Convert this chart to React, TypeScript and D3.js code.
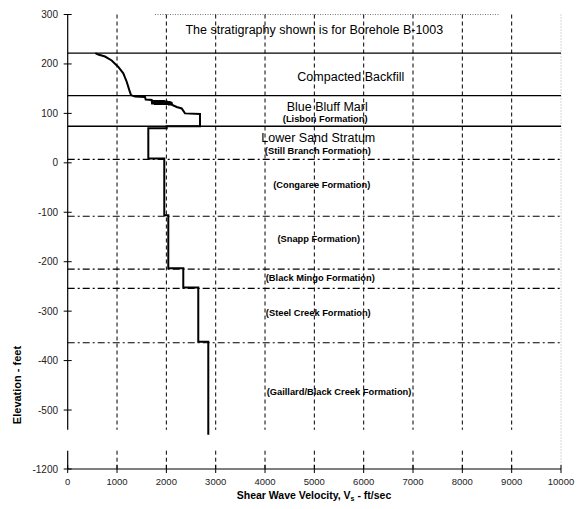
import { useEffect } from "react";
import * as d3 from "d3";

const W = 577;
const H = 509;

// shear wave velocity profile, [Vs ft/sec, elevation ft]
const PROFILE: [number, number][] = [
  [560, 222], [620, 219], [756, 215], [892, 207], [1026, 194], [1127, 181],
  [1196, 164], [1249, 147], [1283, 137], [1364, 134], [1567, 133], [1581, 128],
  [1703, 127],
  // noisy band around el. 120
  [1712, 118], [1722, 127], [1731, 118], [1741, 126], [1750, 118], [1760, 127],
  [1769, 117], [1779, 126], [1788, 118], [1798, 127], [1807, 117], [1817, 126],
  [1826, 118], [1836, 127], [1845, 117], [1855, 126], [1864, 118], [1874, 127],
  [1883, 117], [1893, 126], [1902, 118], [1912, 127], [1921, 117], [1931, 126],
  [1940, 118], [1950, 127], [1959, 117], [1969, 126], [1978, 118], [1988, 126],
  [1997, 117], [2007, 126], [2016, 117], [2026, 125], [2035, 117], [2045, 125],
  [2054, 116], [2064, 125], [2073, 116], [2083, 124], [2092, 116], [2102, 123],
  [2120, 117],
  [2210, 113], [2311, 110], [2378, 100], [2682, 99], [2682, 74], [2007, 74],
  [2007, 70], [1634, 70], [1634, 9], [1958, 9], [1958, -106], [2039, -106],
  [2039, -213], [2343, -213], [2343, -252], [2647, -252], [2647, -362],
  [2850, -362], [2850, -550],
];

const SOLID_BOUNDARIES = [222, 136, 74];
const DASHED_BOUNDARIES = [7, -108, -215, -254, -364];

const X_TICKS = [0, 1000, 2000, 3000, 4000, 5000, 6000, 7000, 8000, 9000, 10000];
const Y_TICKS = [300, 200, 100, 0, -100, -200, -300, -400, -500, -1200];
// axis is broken between these elevations
const BREAK = [-540, -800];

const BIG_LABELS = [
  { text: "The stratigraphy shown is for Borehole B-1003", v: 5000, el: 268 },
  { text: "Compacted Backfill", v: 5740, el: 174 },
  { text: "Blue Bluff Marl", v: 5260, el: 113 },
  { text: "Lower Sand Stratum", v: 5080, el: 50 },
];

const SMALL_LABELS = [
  { text: "(Lisbon Formation)", v: 5220, el: 89 },
  { text: "(Still Branch Formation)", v: 5070, el: 23 },
  { text: "(Congaree Formation)", v: 5150, el: -45 },
  { text: "(Snapp Formation)", v: 5090, el: -155 },
  { text: "(Black Mingo Formation)", v: 5120, el: -232 },
  { text: "(Steel Creek Formation)", v: 5080, el: -303 },
  { text: "(Gaillard/Black Creek Formation)", v: 5500, el: -463 },
];

export default function App() {
  useEffect(() => {
    document.body.style.margin = "0";
  }, []);

  const x = d3.scaleLinear().domain([0, 10000]).range([67.7, 561]);
  const y = d3
    .scaleLinear()
    .domain([300, -560, -1200])
    .range([14.5, 439.7, 469]);

  const left = x(0);
  const right = x(10000);
  const top = y(300);
  const bottom = y(-1200);

  const line = d3
    .line<[number, number]>()
    .x((d) => x(d[0]))
    .y((d) => y(d[1]));

  const font = "Arial, 'Liberation Sans', sans-serif";

  // vertical segments with the break gap
  const vSegs: [number, number][] = [
    [300, BREAK[0]],
    [BREAK[1], -1200],
  ];

  return (
    <svg
      width={W}
      height={H}
      style={{ display: "block", background: "#fff" }}
      fontFamily={font}
    >
      {/* top / right frame, dotted */}
      <line x1={155} x2={500} y1={top} y2={top} stroke="#555" strokeWidth={0.8} strokeDasharray="1 1.5" />
      <line x1={right} x2={right} y1={top} y2={bottom} stroke="#999" strokeWidth={0.8} strokeDasharray="1 2" />

      {/* vertical grid */}
      {X_TICKS.slice(1, -1).map((t) =>
        vSegs.map((s, i) => (
          <line
            key={`g${t}-${i}`}
            x1={x(t)}
            x2={x(t)}
            y1={y(s[0])}
            y2={y(s[1])}
            stroke="#000"
            strokeWidth={1}
            strokeDasharray="4 3"
          />
        ))
      )}

      {/* formation boundaries */}
      {SOLID_BOUNDARIES.map((e) => (
        <line key={`s${e}`} x1={left} x2={right} y1={y(e)} y2={y(e)} stroke="#000" strokeWidth={1.3} />
      ))}
      {DASHED_BOUNDARIES.map((e) => (
        <line
          key={`d${e}`}
          x1={left}
          x2={right}
          y1={y(e)}
          y2={y(e)}
          stroke="#000"
          strokeWidth={1.1}
          strokeDasharray="7 3 2 3"
        />
      ))}

      {/* axes */}
      {vSegs.map((s, i) => (
        <line key={`ya${i}`} x1={left} x2={left} y1={y(s[0])} y2={y(s[1])} stroke="#000" strokeWidth={1.2} />
      ))}
      <line x1={left} x2={right} y1={bottom} y2={bottom} stroke="#000" strokeWidth={1.2} />
      {Y_TICKS.map((t) => (
        <g key={`yt${t}`}>
          <line x1={left - 4} x2={left + 4} y1={y(t)} y2={y(t)} stroke="#000" strokeWidth={1} />
          <text x={58} y={y(t)} textAnchor="end" dominantBaseline="central" fontSize={10} fill="#222">
            {t}
          </text>
        </g>
      ))}
      {X_TICKS.map((t) => (
        <g key={`xt${t}`}>
          <line x1={x(t)} x2={x(t)} y1={bottom - 4} y2={bottom + 4} stroke="#000" strokeWidth={1} />
          <text x={x(t)} y={485} textAnchor="middle" fontSize={9.5} fill="#222">
            {t}
          </text>
        </g>
      ))}

      {/* profile */}
      <path d={line(PROFILE) ?? ""} fill="none" stroke="#000" strokeWidth={2} strokeLinejoin="miter" />

      {/* labels */}
      {BIG_LABELS.map((l) => (
        <text
          key={l.text}
          x={x(l.v)}
          y={y(l.el)}
          textAnchor="middle"
          dominantBaseline="central"
          fontSize={12.5}
          fill="#000"
        >
          {l.text}
        </text>
      ))}
      {SMALL_LABELS.map((l) => (
        <text
          key={l.text}
          x={x(l.v)}
          y={y(l.el)}
          textAnchor="middle"
          dominantBaseline="central"
          fontSize={9.3}
          fontWeight="bold"
          fill="#000"
        >
          {l.text}
        </text>
      ))}

      {/* axis titles */}
      <text x={314} y={499} textAnchor="middle" fontSize={10.5} fontWeight="bold" fill="#000">
        Shear Wave Velocity, V
        <tspan fontSize={7} dy={2}>s</tspan>
        <tspan dy={-2}> - ft/sec</tspan>
      </text>
      <text
        transform={`translate(17,385) rotate(-90)`}
        textAnchor="middle"
        dominantBaseline="central"
        fontSize={11}
        fontWeight="bold"
        fill="#000"
      >
        Elevation - feet
      </text>
    </svg>
  );
}
